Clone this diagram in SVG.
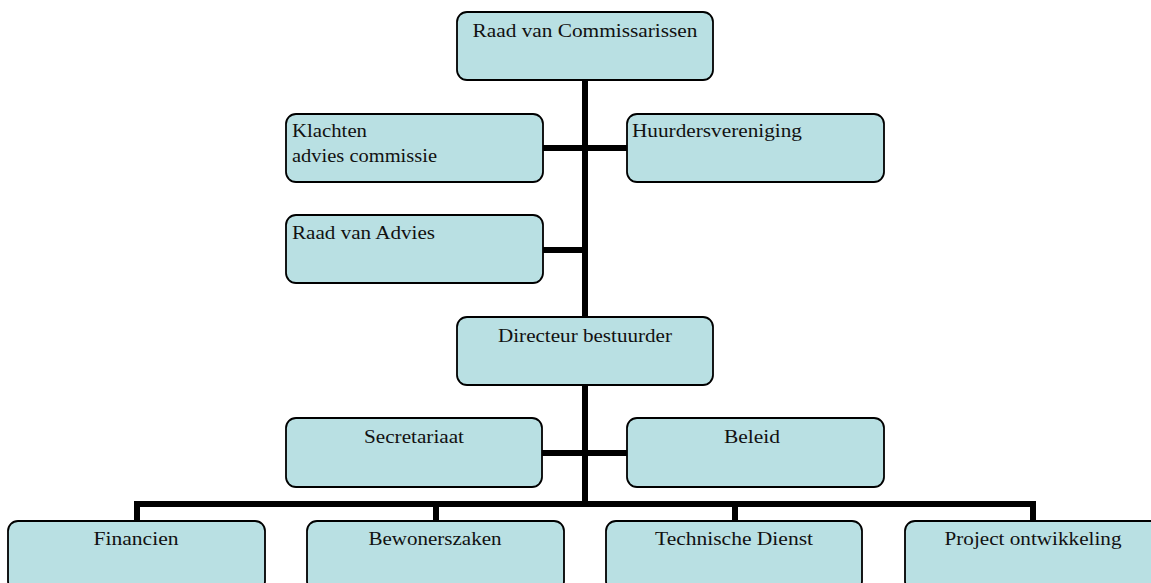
<svg xmlns="http://www.w3.org/2000/svg" width="1151" height="583" viewBox="0 0 1151 583">
<style>
.box{fill:#b9e0e3;stroke:#000;stroke-width:1.8}
.t{font-family:"Liberation Serif","Times New Roman",serif;font-size:18.5px;fill:#111}
.c{text-anchor:middle}
.ln{fill:none;stroke:#000;stroke-width:6;stroke-linejoin:miter;stroke-linecap:butt}
</style>
<rect width="1151" height="583" fill="#fff"/>
<g id="connectors">
<path class="ln" d="M585,80 V504"/>
<path class="ln" d="M543,148 H627"/>
<path class="ln" d="M543,250 H585"/>
<path class="ln" d="M542,453 H627"/>
<path class="ln" d="M137,521 V504 H1033 V521"/>
<path class="ln" d="M436,504 V521"/>
<path class="ln" d="M735,504 V521"/>
</g>
<g id="raad-van-commissarissen">
<rect class="box" x="457" y="12" width="256" height="68" rx="10"/>
<text class="t c" x="585" y="37" textLength="225" lengthAdjust="spacingAndGlyphs">Raad van Commissarissen</text>
</g>
<g id="klachten">
<rect class="box" x="286" y="114" width="257" height="68" rx="10"/>
<text class="t" x="292" y="137" textLength="75" lengthAdjust="spacingAndGlyphs">Klachten</text>
<text class="t" x="292" y="162" textLength="145" lengthAdjust="spacingAndGlyphs">advies commissie</text>
</g>
<g id="huurdersvereniging">
<rect class="box" x="627" y="114" width="257" height="68" rx="10"/>
<text class="t" x="632" y="137" textLength="170" lengthAdjust="spacingAndGlyphs">Huurdersvereniging</text>
</g>
<g id="raad-van-advies">
<rect class="box" x="286" y="215" width="257" height="68" rx="10"/>
<text class="t" x="292" y="239" textLength="143" lengthAdjust="spacingAndGlyphs">Raad van Advies</text>
</g>
<g id="directeur">
<rect class="box" x="457" y="317" width="256" height="68" rx="10"/>
<text class="t c" x="585" y="342" textLength="174" lengthAdjust="spacingAndGlyphs">Directeur bestuurder</text>
</g>
<g id="secretariaat">
<rect class="box" x="286" y="418" width="256" height="69" rx="10"/>
<text class="t c" x="414" y="443" textLength="100" lengthAdjust="spacingAndGlyphs">Secretariaat</text>
</g>
<g id="beleid">
<rect class="box" x="627" y="418" width="257" height="69" rx="10"/>
<text class="t c" x="752" y="443" textLength="56" lengthAdjust="spacingAndGlyphs">Beleid</text>
</g>
<g id="financien">
<rect class="box" x="8" y="521" width="257" height="70" rx="10"/>
<text class="t c" x="136" y="545" textLength="85" lengthAdjust="spacingAndGlyphs">Financien</text>
</g>
<g id="bewonerszaken">
<rect class="box" x="307" y="521" width="257" height="70" rx="10"/>
<text class="t c" x="435" y="545" textLength="133" lengthAdjust="spacingAndGlyphs">Bewonerszaken</text>
</g>
<g id="technische-dienst">
<rect class="box" x="606" y="521" width="256" height="70" rx="10"/>
<text class="t c" x="734" y="545" textLength="158" lengthAdjust="spacingAndGlyphs">Technische Dienst</text>
</g>
<g id="project-ontwikkeling">
<rect class="box" x="905" y="521" width="257" height="70" rx="10"/>
<text class="t c" x="1033" y="545" textLength="177" lengthAdjust="spacingAndGlyphs">Project ontwikkeling</text>
</g>
</svg>
